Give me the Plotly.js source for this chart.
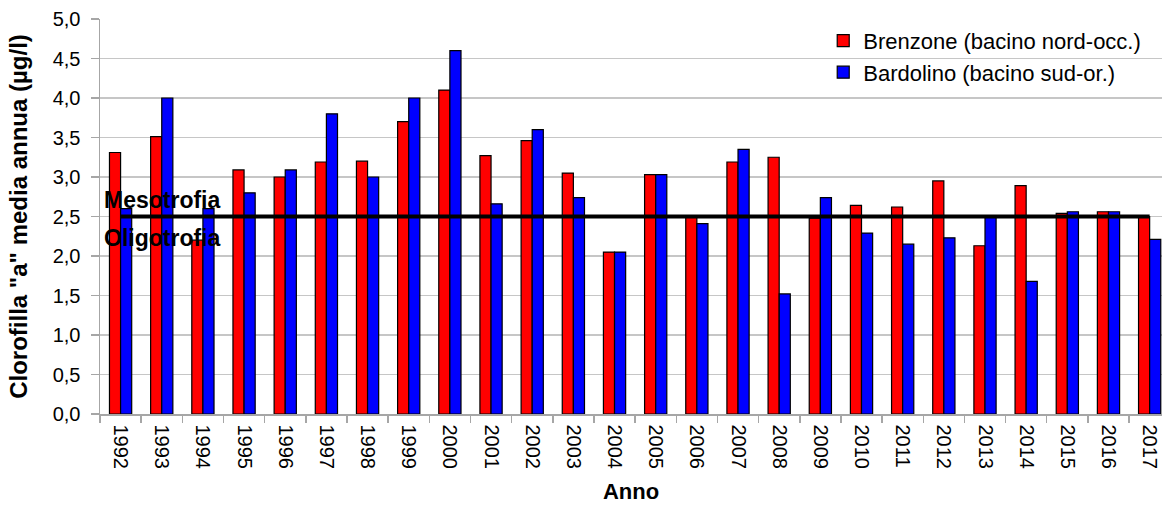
<!DOCTYPE html>
<html>
<head>
<meta charset="utf-8">
<script src="https://cdn.plot.ly/plotly-3.0.1.min.js"></script>
<style>
  html, body { margin: 0; padding: 0; background: #ffffff; overflow: hidden; }
  #chart { width: 1162px; height: 506px; }
</style>
</head>
<body>
<div id="chart"></div>
<script>
const years = ["1992","1993","1994","1995","1996","1997","1998","1999","2000","2001","2002","2003","2004","2005","2006","2007","2008","2009","2010","2011","2012","2013","2014","2015","2016","2017"];
const brenzone = [3.31, 3.51, 2.2, 3.09, 3.0, 3.19, 3.2, 3.7, 4.1, 3.27, 3.46, 3.05, 2.05, 3.03, 2.5, 3.19, 3.25, 2.48, 2.64, 2.62, 2.95, 2.13, 2.89, 2.54, 2.56, 2.5];
const bardolino = [2.6, 4.0, 2.6, 2.8, 3.09, 3.8, 3.0, 4.0, 4.6, 2.66, 3.6, 2.74, 2.05, 3.03, 2.41, 3.35, 1.52, 2.74, 2.29, 2.15, 2.23, 2.5, 1.68, 2.56, 2.56, 2.21];
const threshold = years.map(() => 2.5);
const seriesNames = ["Brenzone (bacino nord-occ.)", "Bardolino (bacino sud-or.)"];
const yTickVals = [0, 0.5, 1, 1.5, 2, 2.5, 3, 3.5, 4, 4.5, 5];
const yTickText = ["0,0","0,5","1,0","1,5","2,0","2,5","3,0","3,5","4,0","4,5","5,0"];

const FONT = "Liberation Sans, Arial, sans-serif";

const traces = [
  {
    type: "bar", name: seriesNames[0], x: years, y: brenzone,
    marker: { color: "#ff0000", line: { color: "#000000", width: 1.2 } }
  },
  {
    type: "bar", name: seriesNames[1], x: years, y: bardolino,
    marker: { color: "#0000ff", line: { color: "#000000", width: 1.2 } }
  },
  {
    type: "scatter", mode: "lines", x: years, y: threshold, showlegend: false,
    line: { color: "#000000", width: 4 }, hoverinfo: "skip"
  }
];

const layout = {
  width: 1162, height: 506,
  margin: { l: 100, r: 0, t: 19, b: 92 },
  paper_bgcolor: "#ffffff", plot_bgcolor: "#ffffff",
  font: { family: FONT, color: "#000000" },
  barmode: "group", bargap: 0.46, bargroupgap: 0,
  showlegend: true,
  legend: {
    x: 0.681, y: 0.998, xanchor: "left", yanchor: "top",
    font: { family: FONT, size: 22, color: "#000000" },
    bgcolor: "rgba(0,0,0,0)", tracegroupgap: 0, itemwidth: 30
  },
  xaxis: {
    type: "category", range: [-0.5, 25.3],
    tickangle: 90, tickfont: { family: FONT, size: 20, color: "#000000" },
    ticks: "outside", tickson: "boundaries", ticklen: 7, tickcolor: "#a6a6a6", tickwidth: 1.5,
    ticklabelstandoff: 5,
    showline: true, linecolor: "#a6a6a6", linewidth: 1.5,
    showgrid: false, zeroline: false,
    title: { text: "<b>Anno</b>", font: { family: FONT, size: 22, color: "#000000" }, standoff: 15 }
  },
  yaxis: {
    range: [0, 5], tickvals: yTickVals, ticktext: yTickText,
    tickfont: { family: FONT, size: 20, color: "#000000" },
    ticks: "outside", ticklen: 8, tickcolor: "#a6a6a6", tickwidth: 1.5,
    ticklabelstandoff: 6,
    showline: true, linecolor: "#a6a6a6", linewidth: 1.5,
    showgrid: true, gridcolor: "#c6c6c6", gridwidth: 1.2,
    zeroline: false,
    title: { text: "<b>Clorofilla \"a\" media annua (µg/l)</b>", font: { family: FONT, size: 24, color: "#000000" }, standoff: 18 }
  },
  annotations: [
    { xref: "paper", yref: "y", x: 0.002, y: 2.71, xanchor: "left", yanchor: "middle",
      text: "<b>Mesotrofia</b>", showarrow: false, font: { family: FONT, size: 23, color: "#000000" } },
    { xref: "paper", yref: "y", x: 0.002, y: 2.23, xanchor: "left", yanchor: "middle",
      text: "<b>Oligotrofia</b>", showarrow: false, font: { family: FONT, size: 23, color: "#000000" } }
  ]
};

Plotly.newPlot("chart", traces, layout, { displayModeBar: false, staticPlot: true });
</script>
</body>
</html>
